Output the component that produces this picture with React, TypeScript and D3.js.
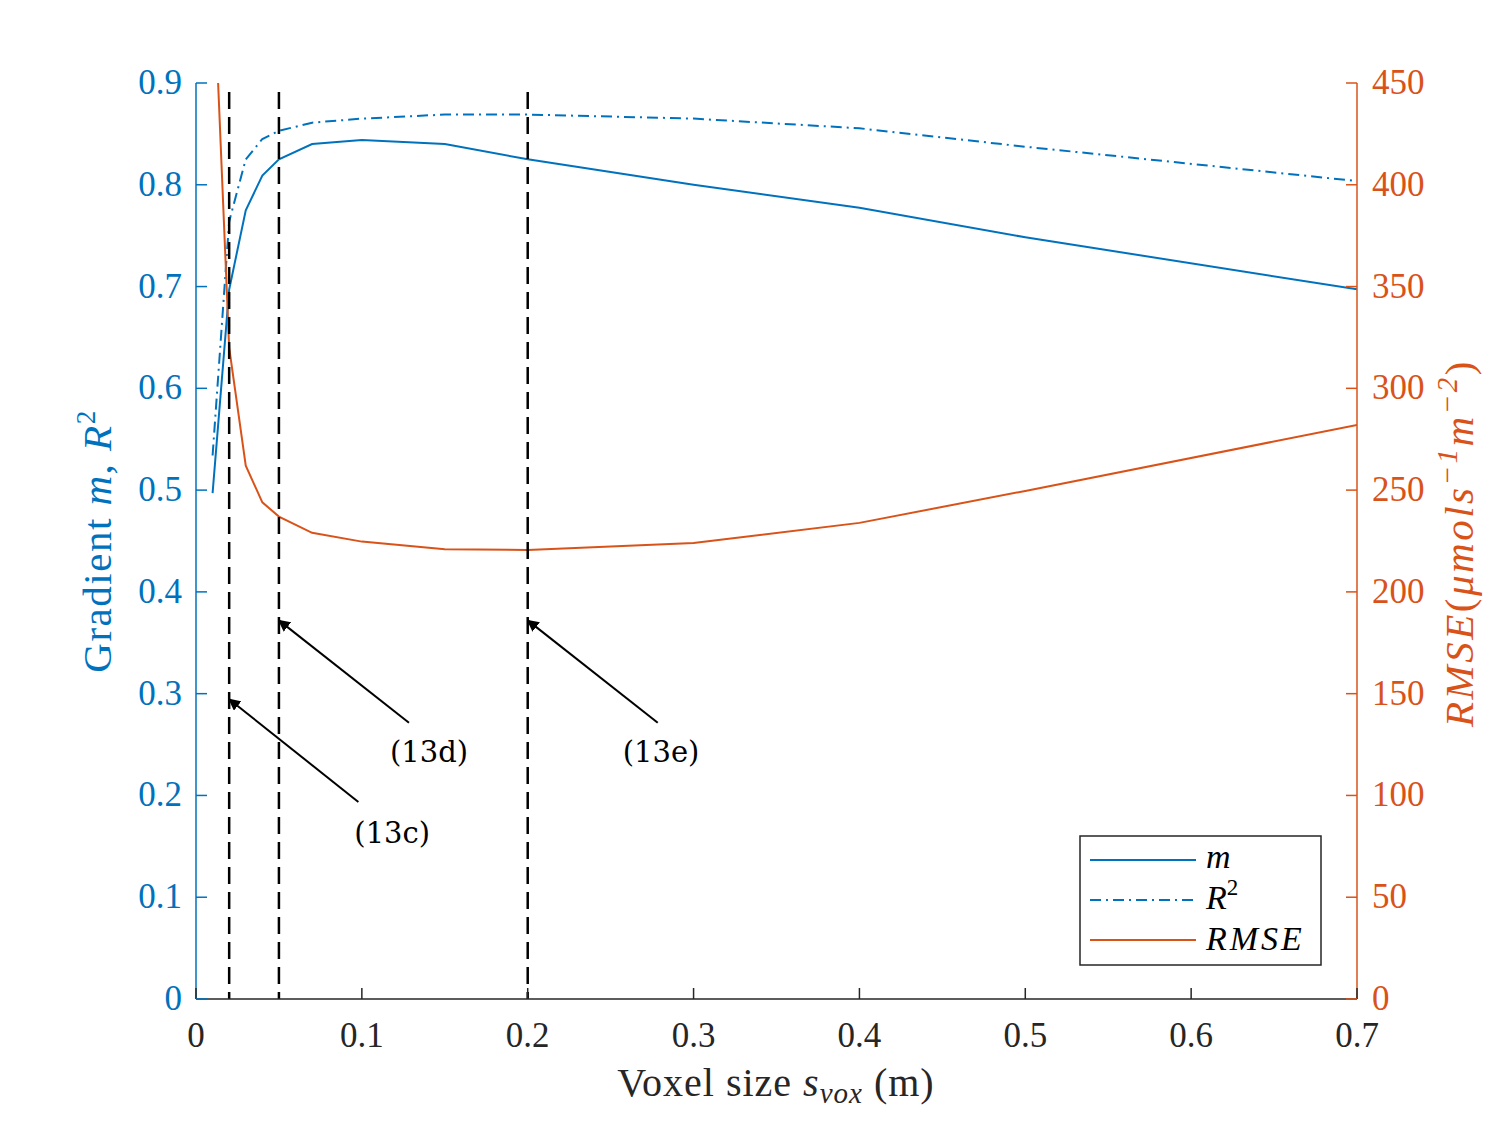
import { useEffect, useRef } from "react";
import * as d3 from "d3";

// voxel sizes (m)
const voxelSizes = [0.01, 0.02, 0.03, 0.04, 0.05, 0.07, 0.1, 0.15, 0.2, 0.3, 0.4, 0.5, 0.7];
// gradient m
const gradientM = [0.497, 0.697, 0.775, 0.809, 0.825, 0.84, 0.844, 0.84, 0.825, 0.8, 0.7775, 0.7484, 0.6973];
// R^2
const rSquared = [0.534, 0.764, 0.825, 0.845, 0.853, 0.861, 0.865, 0.869, 0.869, 0.865, 0.8555, 0.8374, 0.8037];
// RMSE (umol s^-1 m^-2)
const rmse = [515, 320, 262, 244, 237, 229, 224.7, 221, 220.6, 224, 233.9, 249.6, 282];

const xTicks = [0, 0.1, 0.2, 0.3, 0.4, 0.5, 0.6, 0.7];
const leftTicks = [0, 0.1, 0.2, 0.3, 0.4, 0.5, 0.6, 0.7, 0.8, 0.9];
const rightTicks = [0, 50, 100, 150, 200, 250, 300, 350, 400, 450];

// marked voxel sizes
const markedSizes = [0.02, 0.05, 0.2];
// annotations: arrow head (x, y) to tail (x, y), in data units of left axis
const annoLabels = ["(13c)", "(13d)", "(13e)"];
const annoHeadX = [0.02, 0.05, 0.2];
const annoHeadY = [0.2945, 0.372, 0.372];
const annoTailX = [0.0979, 0.1284, 0.2784];
const annoTailY = [0.1936, 0.2715, 0.2715];
const annoTextX = [0.1183, 0.1405, 0.2804];
const annoTextY = [0.153, 0.233, 0.233];

const BLUE = "#0072BD";
const ORANGE = "#D95319";
const AXIS = "#262626";
const FONT = "'Liberation Serif', 'Times New Roman', serif";

export default function App() {
  const svgRef = useRef<SVGSVGElement>(null);

  useEffect(() => {
    if (!svgRef.current) return;
    const svg = d3.select(svgRef.current);
    svg.selectAll("*").remove();

    const left = 196, right = 1357, top = 83, bottom = 999;

    const x = d3.scaleLinear().domain([0, 0.7]).range([left, right]);
    const yL = d3.scaleLinear().domain([0, 0.9]).range([bottom, top]);
    const yR = d3.scaleLinear().domain([0, 450]).range([bottom, top]);

    svg.append("rect").attr("width", 1500).attr("height", 1125).attr("fill", "#fff");

    const defs = svg.append("defs");
    defs.append("clipPath").attr("id", "plotClip")
      .append("rect").attr("x", left).attr("y", top).attr("width", right - left).attr("height", bottom - top);
    defs.append("marker")
      .attr("id", "arrowHead")
      .attr("viewBox", "0 0 10 10")
      .attr("refX", 9).attr("refY", 5)
      .attr("markerWidth", 6).attr("markerHeight", 6)
      .attr("markerUnits", "strokeWidth")
      .attr("orient", "auto")
      .append("path").attr("d", "M0,0 L10,5 L0,10 z").attr("fill", "#000");

    const plot = svg.append("g").attr("clip-path", "url(#plotClip)");

    // Series lines
    const idx = d3.range(voxelSizes.length);
    const lineL = (vals: number[]) => d3.line<number>().x((i) => x(voxelSizes[i])).y((i) => yL(vals[i]))(idx);
    const lineR = d3.line<number>().x((i) => x(voxelSizes[i])).y((i) => yR(rmse[i]))(idx);

    plot.append("path").attr("d", lineL(gradientM)).attr("fill", "none").attr("stroke", BLUE).attr("stroke-width", 2);
    plot.append("path").attr("d", lineL(rSquared)).attr("fill", "none").attr("stroke", BLUE).attr("stroke-width", 2)
      .attr("stroke-dasharray", "11,5,2,5");
    plot.append("path").attr("d", lineR).attr("fill", "none").attr("stroke", ORANGE).attr("stroke-width", 2);

    // Dashed vertical markers
    svg.selectAll(".vmark").data(markedSizes).enter().append("line")
      .attr("x1", (d) => x(d)).attr("x2", (d) => x(d))
      .attr("y1", top + 9).attr("y2", bottom)
      .attr("stroke", "#000").attr("stroke-width", 2.5).attr("stroke-dasharray", "17,8");

    // Annotations
    annoLabels.forEach((label, i) => {
      svg.append("line")
        .attr("x1", x(annoTailX[i])).attr("y1", yL(annoTailY[i]))
        .attr("x2", x(annoHeadX[i])).attr("y2", yL(annoHeadY[i]))
        .attr("stroke", "#000").attr("stroke-width", 2)
        .attr("marker-end", "url(#arrowHead)");
      svg.append("text")
        .attr("x", x(annoTextX[i])).attr("y", yL(annoTextY[i]))
        .attr("text-anchor", "middle")
        .style("font-family", "'DejaVu Serif', serif").style("font-size", "29px").attr("fill", "#000")
        .text(label);
    });

    // Axes lines
    svg.append("line").attr("x1", left).attr("x2", right).attr("y1", bottom).attr("y2", bottom)
      .attr("stroke", AXIS).attr("stroke-width", 1.5);
    svg.append("line").attr("x1", left).attr("x2", left).attr("y1", top).attr("y2", bottom)
      .attr("stroke", BLUE).attr("stroke-width", 1.5);
    svg.append("line").attr("x1", right).attr("x2", right).attr("y1", top).attr("y2", bottom)
      .attr("stroke", ORANGE).attr("stroke-width", 1.5);

    // Bottom ticks
    const bx = svg.append("g");
    bx.selectAll("line").data(xTicks).enter().append("line")
      .attr("x1", (d) => x(d)).attr("x2", (d) => x(d)).attr("y1", bottom).attr("y2", bottom - 11)
      .attr("stroke", AXIS).attr("stroke-width", 1.5);
    bx.selectAll("text").data(xTicks).enter().append("text")
      .attr("x", (d) => x(d)).attr("y", bottom + 48).attr("text-anchor", "middle")
      .style("font-family", FONT).style("font-size", "35px").attr("fill", AXIS)
      .text((d) => d3.format("~g")(d));

    // Left ticks
    const ly = svg.append("g");
    ly.selectAll("line").data(leftTicks).enter().append("line")
      .attr("x1", left).attr("x2", left + 11).attr("y1", (d) => yL(d)).attr("y2", (d) => yL(d))
      .attr("stroke", BLUE).attr("stroke-width", 1.5);
    ly.selectAll("text").data(leftTicks).enter().append("text")
      .attr("x", left - 14).attr("y", (d) => yL(d) + 11).attr("text-anchor", "end")
      .style("font-family", FONT).style("font-size", "35px").attr("fill", BLUE)
      .text((d) => d3.format("~g")(d));

    // Right ticks
    const ry = svg.append("g");
    ry.selectAll("line").data(rightTicks).enter().append("line")
      .attr("x1", right).attr("x2", right - 11).attr("y1", (d) => yR(d)).attr("y2", (d) => yR(d))
      .attr("stroke", ORANGE).attr("stroke-width", 1.5);
    ry.selectAll("text").data(rightTicks).enter().append("text")
      .attr("x", right + 15).attr("y", (d) => yR(d) + 11).attr("text-anchor", "start")
      .style("font-family", FONT).style("font-size", "35px").attr("fill", ORANGE)
      .text((d) => String(d));

    // X label
    const xl = svg.append("text").attr("x", 776).attr("y", 1096).attr("text-anchor", "middle")
      .style("font-family", FONT).style("font-size", "40px").style("letter-spacing", "1px").attr("fill", AXIS);
    xl.append("tspan").text("Voxel size ");
    xl.append("tspan").attr("font-style", "italic").text("s");
    xl.append("tspan").attr("font-style", "italic").attr("font-size", "29px").attr("dy", 7).text("vox");
    xl.append("tspan").attr("dy", -7).text("  (m)");

    // Left label
    const ll = svg.append("text").attr("transform", `translate(111, 541) rotate(-90)`).attr("text-anchor", "middle")
      .style("font-family", FONT).style("font-size", "41px").style("letter-spacing", "1.5px").attr("fill", BLUE);
    ll.append("tspan").text("Gradient ");
    ll.append("tspan").attr("font-style", "italic").text("m");
    ll.append("tspan").text(", ");
    ll.append("tspan").attr("font-style", "italic").text("R");
    ll.append("tspan").attr("font-size", "27px").attr("dy", -16).text("2");

    // Right label
    const rl = svg.append("text").attr("transform", `translate(1473, 543) rotate(-90)`).attr("text-anchor", "middle")
      .style("font-family", FONT).style("font-size", "41px").style("letter-spacing", "2.5px").attr("fill", ORANGE);
    rl.append("tspan").attr("font-style", "italic").text("RMSE");
    rl.append("tspan").text("(");
    rl.append("tspan").attr("font-style", "italic").text("μmols");
    rl.append("tspan").attr("font-style", "italic").attr("font-size", "29px").attr("dy", -16).text("−1");
    rl.append("tspan").attr("font-style", "italic").attr("dy", 16).text("m");
    rl.append("tspan").attr("font-style", "italic").attr("font-size", "29px").attr("dy", -16).text("−2");
    rl.append("tspan").attr("dy", 16).text(")");

    // Legend
    const lg = svg.append("g");
    lg.append("rect").attr("x", 1080).attr("y", 836).attr("width", 241).attr("height", 129)
      .attr("fill", "#fff").attr("stroke", AXIS).attr("stroke-width", 1.5);
    const legendItems = [
      { dash: null as string | null, color: BLUE },
      { dash: "11,5,2,5", color: BLUE },
      { dash: null as string | null, color: ORANGE },
    ];
    legendItems.forEach((it, i) => {
      const yy = 860 + i * 40;
      const ln = lg.append("line").attr("x1", 1090).attr("x2", 1196).attr("y1", yy).attr("y2", yy)
        .attr("stroke", it.color).attr("stroke-width", 2);
      if (it.dash) ln.attr("stroke-dasharray", it.dash);
    });
    const t0 = lg.append("text").attr("x", 1206).attr("y", 868)
      .style("font-family", FONT).style("font-size", "34px").attr("fill", "#000").attr("font-style", "italic");
    t0.text("m");
    const t1 = lg.append("text").attr("x", 1206).attr("y", 909)
      .style("font-family", FONT).style("font-size", "34px").attr("fill", "#000");
    t1.append("tspan").attr("font-style", "italic").text("R");
    t1.append("tspan").attr("font-size", "23px").attr("dy", -14).text("2");
    lg.append("text").attr("x", 1206).attr("y", 950)
      .style("font-family", FONT).style("font-size", "34px").style("letter-spacing", "3px")
      .attr("fill", "#000").attr("font-style", "italic")
      .text("RMSE");
  }, []);

  return (
    <svg
      ref={svgRef}
      width={1500}
      height={1125}
      style={{ position: "absolute", left: 0, top: 0, display: "block" }}
    />
  );
}
